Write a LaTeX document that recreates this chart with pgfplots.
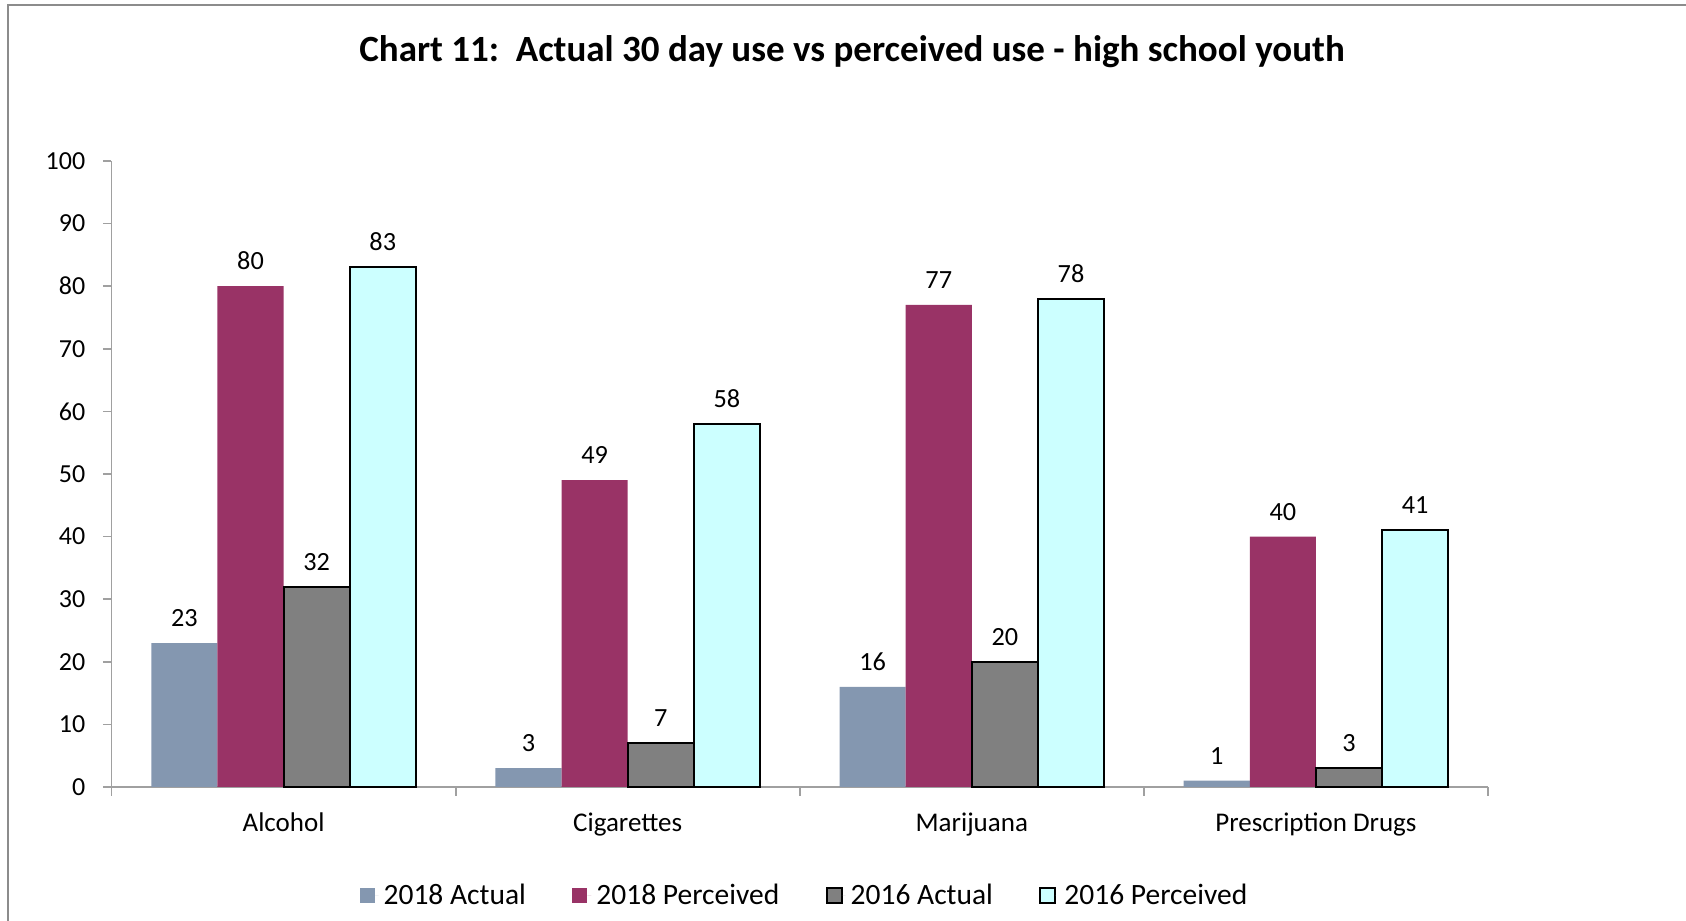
\documentclass[border=0pt]{standalone}
\usepackage{fontspec}
\setmainfont{Carlito}
\usepackage{pgfplots}
\pgfplotsset{compat=1.18}
\definecolor{cA}{HTML}{8497B0}
\definecolor{cB}{HTML}{993366}
\definecolor{cC}{HTML}{808080}
\definecolor{cD}{HTML}{CCFFFF}
\definecolor{axgray}{HTML}{A0A0A0}
\definecolor{framegray}{HTML}{8C8C8C}
\begin{document}
\begin{tikzpicture}
\useasboundingbox (0,0) rectangle (674.4pt,368.4pt);
\draw[framegray, line width=0.8pt] (3.2pt,0) -- (3.2pt,366.4pt) -- (674.4pt,366.4pt);
\node[font=\fontsize{14.8}{18}\selectfont\bfseries] at (340.8pt,347.7pt) {Chart 11:\ \ Actual 30 day use vs perceived use - high school youth};
\begin{axis}[
 at={(44.6pt,53.6pt)}, anchor=south west,
 scale only axis, width=550.6pt, height=250.4pt,
 xmin=-0.5, xmax=3.5, ymin=0, ymax=100,
 clip=false,
 ybar=0pt, bar width=26.45pt,
 axis lines=left,
 axis line style={-, draw=axgray, line width=0.7pt},
 xtick={0,1,2,3},
 xticklabels={Alcohol,Cigarettes,Marijuana,Prescription Drugs},
 major x tick style={draw=none},
 minor xtick={-0.5,0.5,1.5,2.5,3.5},
 minor x tick style={draw=axgray, line width=0.7pt},
 ytick={0,10,...,100},
 major y tick style={draw=axgray, line width=0.7pt},
 tick align=outside,
 major tick length=3.4pt, minor tick length=3.5pt,
 /pgf/number format/assume math mode=true,
 yticklabel style={font=\fontsize{10.4}{12}\selectfont, anchor=east, inner sep=0pt, xshift=-6.9pt},
 xticklabel style={font=\fontsize{10.8}{13}\selectfont, anchor=base, inner sep=0pt, yshift=-14.6pt},
 nodes near coords,
 every node near coord/.append style={font=\fontsize{10.5}{12}\selectfont, anchor=base, inner sep=0pt, yshift=6.6pt, text=black},
 legend columns=-1,
 legend style={at={(0.5045,-0.1740)}, anchor=center, draw=none, fill=none,
   font=\fontsize{11.8}{14}\selectfont,
   /tikz/every even column/.append style={column sep=16.6pt}},
]
\addplot[fill=cA, draw=none, legend image code/.code={\fill[cA] (0pt,-3pt) rectangle (6pt,3pt); \path[draw=none] (6pt,0) -- (7.6pt,0);}]
  coordinates {(0,23) (1,3) (2,16) (3,1)};
\addlegendentry{2018 Actual}
\addplot[fill=cB, draw=none, legend image code/.code={\fill[cB] (0pt,-3pt) rectangle (6pt,3pt); \path[draw=none] (6pt,0) -- (7.6pt,0);}]
  coordinates {(0,80) (1,49) (2,77) (3,40)};
\addlegendentry{2018 Perceived}
\addplot[fill=cC, draw=black, line width=0.8pt, legend image code/.code={\draw[fill=cC, draw=black, line width=0.8pt] (0pt,-3pt) rectangle (6pt,3pt); \path[draw=none] (6pt,0) -- (7.6pt,0);}]
  coordinates {(0,32) (1,7) (2,20) (3,3)};
\addlegendentry{2016 Actual}
\addplot[fill=cD, draw=black, line width=0.8pt, legend image code/.code={\draw[fill=cD, draw=black, line width=0.8pt] (0pt,-3pt) rectangle (6pt,3pt); \path[draw=none] (6pt,0) -- (7.6pt,0);}]
  coordinates {(0,83) (1,58) (2,78) (3,41)};
\addlegendentry{2016 Perceived}
\end{axis}
\end{tikzpicture}
\end{document}
